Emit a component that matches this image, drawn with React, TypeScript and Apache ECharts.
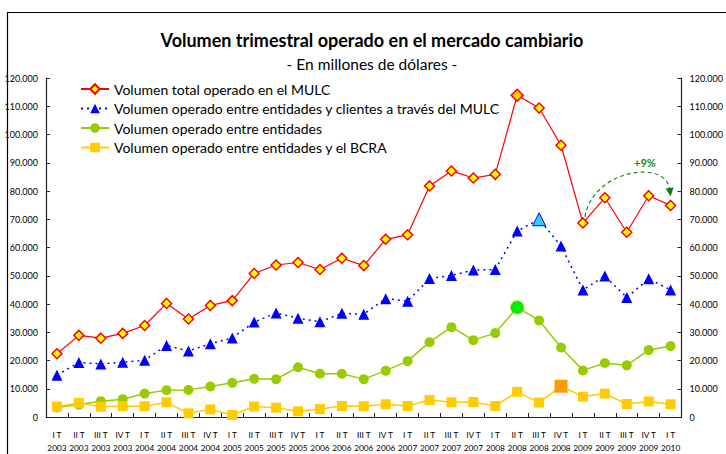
import React, { useEffect, useRef } from "react";
import * as echarts from "echarts";

const quarters = ["I T", "II T", "III T", "IV T"];
const categories: string[] = [];
for (let y = 2003; y <= 2010; y++) {
  for (let q = 0; q < 4; q++) {
    if (y === 2010 && q > 0) break;
    categories.push(quarters[q] + "\n" + y);
  }
}

const totalMULC = [22400, 28900, 27900, 29600, 32400, 40200, 34700, 39500, 41200, 50800, 53800, 54700, 52200, 56200, 53600, 62900, 64500, 81800, 87100, 84600, 85900, 113900, 109400, 96200, 68700, 77600, 65400, 78300, 74900];
const clientesMULC = [14800, 19300, 18800, 19400, 20100, 25300, 23400, 25900, 28000, 33600, 36800, 35000, 33700, 36700, 36400, 41900, 41000, 49000, 50100, 52000, 52200, 65800, 70000, 60500, 45000, 49900, 42300, 48900, 45000];
const entreEntidades = [3400, 4400, 5600, 6300, 8300, 9500, 9600, 10800, 12100, 13500, 13400, 17600, 15300, 15300, 13400, 16400, 19800, 26500, 31800, 27200, 29700, 38800, 34200, 24600, 16500, 19100, 18300, 23700, 25100];
const entidadesBCRA = [3700, 5000, 3600, 3800, 3800, 5200, 1300, 2700, 700, 3700, 3300, 2000, 2800, 3900, 3800, 4500, 3900, 6000, 5200, 5300, 3900, 8900, 5100, 10900, 7200, 8300, 4600, 5500, 4500];

const seriesNames = [
  "Volumen total operado en el MULC",
  "Volumen operado entre entidades y clientes a través del MULC",
  "Volumen operado entre entidades",
  "Volumen operado entre entidades y el BCRA",
];
const yTicks = [0, 10000, 20000, 30000, 40000, 50000, 60000, 70000, 80000, 90000, 100000, 110000, 120000];
const title = "Volumen trimestral operado en el mercado cambiario";
const subtitle = "- En millones de dólares -";
const changeLabel = "+9%";

const FONT = "Lato, 'Open Sans', sans-serif";

const fmt = (v: number) => (v === 0 ? "0" : v / 1000 + ".000");

export default function App() {
  const ref = useRef<HTMLDivElement>(null);
  useEffect(() => {
    if (!ref.current) return;
    const chart = echarts.init(ref.current, null, { renderer: "svg" });

    const highlight = (arr: number[], idx: number, style: any, size: number) =>
      arr.map((v, i) => (i === idx ? { value: v, itemStyle: style, symbolSize: size } : v));

    const yAxisCommon = {
      type: "value",
      min: yTicks[0],
      max: yTicks[yTicks.length - 1],
      interval: 10000,
      axisLine: { show: true, lineStyle: { color: "#222", width: 1.2 } },
      axisTick: { show: true, inside: true, length: 4, lineStyle: { color: "#222" } },
      splitLine: { show: false },
      axisLabel: { formatter: fmt, fontSize: 9, color: "#000", fontFamily: FONT, margin: 8 },
    };

    chart.setOption({
      animation: false,
      backgroundColor: "#fff",
      textStyle: { fontFamily: FONT },
      grid: { left: 46, right: 31, top: 78, bottom: 37, containLabel: false },
      legend: {
        orient: "vertical",
        left: 75,
        top: 77,
        itemWidth: 28,
        itemHeight: 12,
        itemGap: 5.5,
        textStyle: { fontSize: 14, color: "#000", fontFamily: FONT },
        data: seriesNames,
      },
      xAxis: {
        type: "category",
        data: categories,
        boundaryGap: true,
        axisLine: { lineStyle: { color: "#222", width: 1.2 } },
        axisTick: { show: true, inside: true, length: 4, lineStyle: { color: "#222" } },
        axisLabel: {
          interval: 0,
          fontSize: 8.3,
          color: "#000",
          fontFamily: FONT,
          lineHeight: 13,
          margin: 11,
        },
      },
      yAxis: [
        { ...yAxisCommon, position: "left" },
        { ...yAxisCommon, position: "right" },
      ],
      series: [
        {
          name: seriesNames[0],
          type: "line",
          data: highlight(totalMULC, 21, { color: "#ffcc00", borderColor: "#ff0000", borderWidth: 1.5 }, 12),
          symbol: "diamond",
          symbolSize: 10,
          lineStyle: { color: "#ff0000", width: 1.2 },
          itemStyle: { color: "#ffff00", borderColor: "#ff0000", borderWidth: 1.5 },
          z: 2,
        },
        {
          name: seriesNames[1],
          type: "line",
          data: highlight(clientesMULC, 22, { color: "#33ccff", borderColor: "#0000ff", borderWidth: 1 }, 13),
          symbol: "triangle",
          symbolSize: 11,
          lineStyle: { color: "#0000ff", width: 1.5, type: [2, 4] },
          itemStyle: { color: "#0000ff" },
          z: 3,
        },
        {
          name: seriesNames[2],
          type: "line",
          data: highlight(entreEntidades, 21, { color: "#00ee00", borderColor: "#99cc00", borderWidth: 1 }, 13),
          symbol: "circle",
          symbolSize: 10,
          lineStyle: { color: "#99cc00", width: 1.5 },
          itemStyle: { color: "#99cc00" },
          z: 4,
        },
        {
          name: seriesNames[3],
          type: "line",
          data: highlight(entidadesBCRA, 23, { color: "#ff9900" }, 13),
          symbol: "rect",
          symbolSize: 10,
          lineStyle: { color: "#ffcc00", width: 1.5 },
          itemStyle: { color: "#ffcc00" },
          z: 5,
        },
      ],
    });

    const p0 = chart.convertToPixel({ xAxisIndex: 0, yAxisIndex: 0 }, [24, totalMULC[24]]) as number[];
    const p1 = chart.convertToPixel({ xAxisIndex: 0, yAxisIndex: 0 }, [28, totalMULC[28]]) as number[];
    const sx = p0[0] + 2;
    const sy = p0[1] - 6;
    const ex = p1[0] - 1;
    const ey = p1[1] - 10;

    chart.setOption({
      graphic: [
        {
          type: "rect",
          shape: { x: 7.5, y: 12.5, width: 740, height: 460 },
          style: { fill: "none", stroke: "#000", lineWidth: 1.2 },
          silent: true,
        },
        {
          type: "text",
          x: 372,
          y: 40,
          style: {
            text: title,
            textAlign: "center",
            textVerticalAlign: "middle",
            font: "bold 18px " + FONT,
            fill: "#000",
          },
        },
        {
          type: "text",
          x: 372,
          y: 64,
          style: {
            text: subtitle,
            textAlign: "center",
            textVerticalAlign: "middle",
            font: "15.5px " + FONT,
            fill: "#000",
          },
        },
        {
          type: "bezierCurve",
          shape: {
            x1: sx,
            y1: sy,
            cpx1: sx + 8,
            cpy1: sy - 48,
            cpx2: ex - 3,
            cpy2: sy - 58,
            x2: ex,
            y2: ey - 6,
          },
          style: { stroke: "#1a8a1a", lineWidth: 1.2, lineDash: [4, 3], fill: "none" },
          z: 10,
        },
        {
          type: "polygon",
          shape: { points: [[ex - 4, ey - 7], [ex + 4, ey - 8], [ex + 1, ey + 1]] },
          style: { fill: "#137a13" },
          z: 10,
        },
        {
          type: "text",
          x: 645,
          y: 162,
          style: {
            text: changeLabel,
            textAlign: "center",
            textVerticalAlign: "middle",
            font: "bold 11px " + FONT,
            fill: "#1a8a1a",
          },
          z: 10,
        },
      ],
    });

    return () => chart.dispose();
  }, []);
  return (
    <div
      ref={ref}
      style={{ position: "fixed", left: 0, top: 0, width: 726, height: 454, background: "#fff" }}
    />
  );
}
